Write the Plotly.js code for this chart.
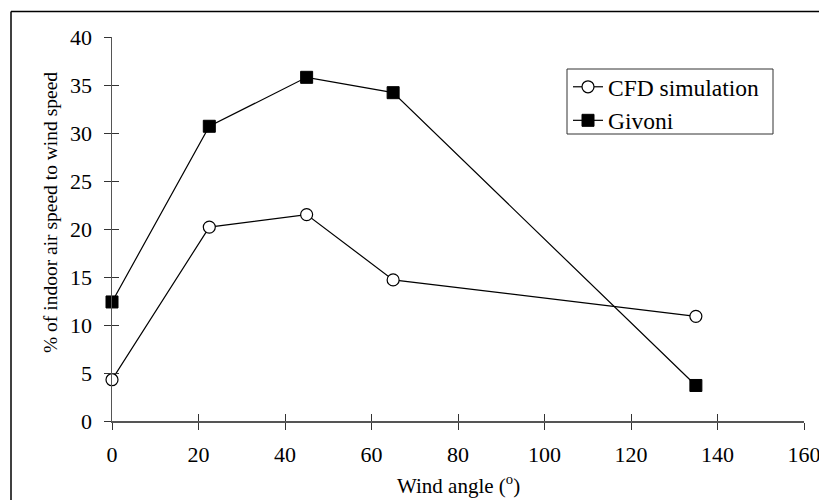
<!DOCTYPE html>
<html>
<head>
<meta charset="utf-8">
<script src="https://cdn.plot.ly/plotly-3.0.1.min.js"></script>
<style>body{margin:0;padding:0;background:#fff}#chart{width:819px;height:500px}</style>
</head>
<body>
<div id="chart"></div>
<script>
const windAngle = [0, 22.5, 45, 65, 135];
const cfdValues = [4.3, 20.2, 21.5, 14.7, 10.9];
const givoniValues = [12.4, 30.7, 35.8, 34.2, 3.7];
const seriesNames = ["CFD simulation", "Givoni"];
const xTicks = [0, 20, 40, 60, 80, 100, 120, 140, 160];
const yTicks = [0, 5, 10, 15, 20, 25, 30, 35, 40];
const xTitle = "Wind angle (<sup>o</sup>)";
const yTitle = "% of indoor air speed to wind speed";

const font = "'Liberation Serif', 'Times New Roman', serif";
const traces = [
  {x: windAngle, y: cfdValues, name: seriesNames[0], mode: "lines+markers", cliponaxis: false,
   line: {color: "#000", width: 1.2},
   marker: {symbol: "circle", size: 12, color: "#fff", line: {color: "#000", width: 1.2}}},
  {x: windAngle, y: givoniValues, name: seriesNames[1], mode: "lines+markers", cliponaxis: false,
   line: {color: "#000", width: 1.2},
   marker: {symbol: "square", size: 12, color: "#000", line: {color: "#000", width: 1}}},
  {x: [0], y: [0], xaxis: "x2", yaxis: "y2", mode: "markers", marker: {opacity: 0}, showlegend: false, hoverinfo: "skip"}
];

const axisCommon = {showgrid: false, zeroline: false, showline: true, linecolor: "#555", linewidth: 1.5,
  tickcolor: "#333", tickwidth: 1, ticklen: 7, ticklabeloverflow: "allow",
  tickfont: {family: font, size: 22, color: "#000"}};

// plot area: x 112..804 px, y 37..421 px
const pxX = px => (px - 112) / 692;
const pxY = py => (421 - py) / 384;

const layout = {
  width: 819, height: 500,
  margin: {l: 112, r: 15, t: 37, b: 79},
  paper_bgcolor: "#fff", plot_bgcolor: "#fff",
  font: {family: font, color: "#000"},
  showlegend: true,
  legend: {x: pxX(568), y: pxY(65), xanchor: "left", yanchor: "top", borderwidth: 0,
    font: {family: font, size: 23.5, color: "#000"}, bgcolor: "rgba(0,0,0,0)", tracegroupgap: 0, itemwidth: 30},
  xaxis: Object.assign({}, axisCommon, {range: [0, 160], tickvals: xTicks, ticks: "outside", ticklabelstandoff: 6}),
  yaxis: Object.assign({}, axisCommon, {range: [0, 40], tickvals: yTicks, ticks: "outside", ticklabelstandoff: 7}),
  xaxis2: Object.assign({}, axisCommon, {range: [0, 160], tickvals: xTicks, ticks: "inside", overlaying: "x", showticklabels: false, anchor: "y2"}),
  yaxis2: Object.assign({}, axisCommon, {range: [0, 40], tickvals: yTicks, ticks: "inside", overlaying: "y", showticklabels: false, anchor: "x2"}),
  annotations: [
    {text: xTitle, xref: "paper", yref: "paper", x: pxX(458), y: pxY(484), xanchor: "center", yanchor: "middle",
     showarrow: false, font: {family: font, size: 21, color: "#000"}},
    {text: yTitle, xref: "paper", yref: "paper", x: pxX(50), y: pxY(213), xanchor: "center", yanchor: "middle",
     textangle: -90, showarrow: false, font: {family: font, size: 19.5, color: "#000"}}
  ],
  shapes: [
    {type: "line", xref: "paper", yref: "paper", x0: pxX(11), x1: pxX(830), y0: pxY(11.5), y1: pxY(11.5), line: {color: "#000", width: 1.5}},
    {type: "line", xref: "paper", yref: "paper", x0: pxX(11), x1: pxX(11), y0: pxY(11.5), y1: pxY(520), line: {color: "#000", width: 1.5}},
    {type: "rect", xref: "paper", yref: "paper", x0: pxX(567), x1: pxX(773), y0: pxY(69), y1: pxY(134), line: {color: "#333", width: 1}, fillcolor: "rgba(0,0,0,0)"}
  ]
};

Plotly.newPlot("chart", traces, layout, {displayModeBar: false, staticPlot: true});
</script>
</body>
</html>
